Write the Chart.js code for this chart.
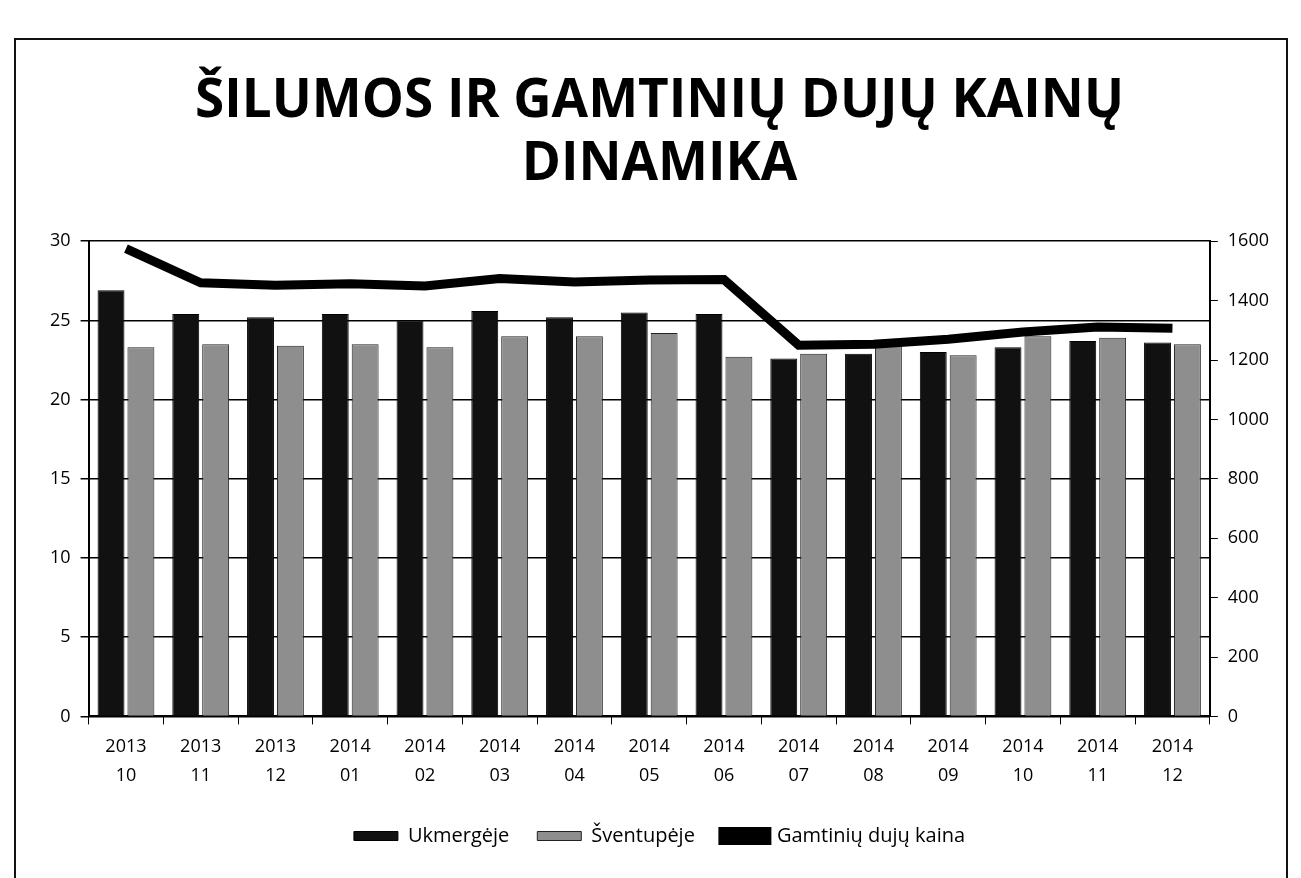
<!DOCTYPE html>
<html>
<head>
<meta charset="utf-8">
<script src="https://cdn.jsdelivr.net/npm/chart.js@4/dist/chart.umd.min.js"></script>
<style>
    html, body { margin: 0; padding: 0; background: #fff; }
    #wrap { position: relative; width: 1301px; height: 878px; }
    #frame { position: absolute; left: 14px; top: 38px; width: 1274px; height: 850px; border: 2px solid #111; box-sizing: border-box; }
    canvas { position: absolute; left: 0; top: 0; }
</style>
</head>
<body>
<div id="wrap">
    <div id="frame"></div>
    <canvas id="chart" width="1301" height="878"></canvas>
</div>
<script>
// Mėnesiai (ašies X žymės, dvi eilutės)
const menesiai = [
    ['2013', '10'], ['2013', '11'], ['2013', '12'], ['2014', '01'], ['2014', '02'],
    ['2014', '03'], ['2014', '04'], ['2014', '05'], ['2014', '06'], ['2014', '07'],
    ['2014', '08'], ['2014', '09'], ['2014', '10'], ['2014', '11'], ['2014', '12']
];

// Šilumos kaina (kairė ašis)
const ukmergeje = [26.9, 25.4, 25.2, 25.4, 25.0, 25.6, 25.2, 25.5, 25.4, 22.6, 22.9, 23.0, 23.3, 23.7, 23.6];
const sventupeje = [23.3, 23.5, 23.4, 23.5, 23.3, 24.0, 24.0, 24.2, 22.7, 22.9, 23.5, 22.8, 24.0, 23.9, 23.5];

// Gamtinių dujų kaina (dešinė ašis)
const dujuKaina = [1575, 1460, 1452, 1457, 1449, 1474, 1463, 1469, 1471, 1250, 1253, 1270, 1294, 1311, 1307];

const fontas = '"Open Sans", "DejaVu Sans", sans-serif';

const ctx = document.getElementById('chart').getContext('2d');
new Chart(ctx, {
    data: {
        labels: menesiai,
        datasets: [
            {
                type: 'bar',
                label: 'Ukmergėje',
                data: ukmergeje,
                backgroundColor: '#111111',
                borderColor: '#000000',
                borderWidth: 1,
                yAxisID: 'y',
                order: 2
            },
            {
                type: 'bar',
                label: 'Šventupėje',
                data: sventupeje,
                backgroundColor: '#8e8e8e',
                borderColor: '#222222',
                borderWidth: 1,
                yAxisID: 'y',
                order: 2
            },
            {
                type: 'line',
                label: 'Gamtinių dujų kaina',
                data: dujuKaina,
                borderColor: '#000000',
                backgroundColor: '#000000',
                borderWidth: 9,
                pointRadius: 0,
                tension: 0,
                yAxisID: 'y1',
                order: 1
            }
        ]
    },
    options: {
        responsive: false,
        animation: false,
        layout: { padding: { left: 40, right: 22, top: 70, bottom: 22 } },
        plugins: {
            title: {
                display: true,
                text: ['ŠILUMOS IR GAMTINIŲ DUJŲ KAINŲ', 'DINAMIKA'],
                color: '#000',
                font: { family: fontas, size: 53, weight: 'bold' },
                lineHeight: 1.32,
                padding: { top: 0, bottom: 44 }
            },
            legend: {
                position: 'bottom',
                labels: {
                    color: '#000',
                    font: { family: fontas, size: 20 },
                    boxWidth: 44,
                    boxHeight: 9,
                    padding: 28,
                    sort: (a, b) => a.datasetIndex - b.datasetIndex
                }
            },
            tooltip: { enabled: false }
        },
        scales: {
            x: {
                offset: true,
                grid: { display: true, drawOnChartArea: false, drawTicks: true, tickLength: 8, color: '#000' },
                border: { color: '#000', width: 2 },
                ticks: { color: '#000', font: { family: fontas, size: 18, lineHeight: 1.6 }, maxRotation: 0, padding: 8 },
                categoryPercentage: 0.58,
                barPercentage: 1.0
            },
            y: {
                position: 'left',
                min: 0,
                max: 30,
                ticks: { stepSize: 5, color: '#000', font: { family: fontas, size: 18 }, padding: 10 },
                grid: { color: '#000', lineWidth: 1.5, tickLength: 8 },
                border: { color: '#000', width: 2 }
            },
            y1: {
                position: 'right',
                min: 0,
                max: 1600,
                ticks: { stepSize: 200, color: '#000', font: { family: fontas, size: 18 }, padding: 10, callback: v => String(v) },
                grid: { drawOnChartArea: false, color: '#000', tickLength: 8 },
                border: { color: '#000', width: 2 }
            }
        }
    }
});
</script>
</body>
</html>
